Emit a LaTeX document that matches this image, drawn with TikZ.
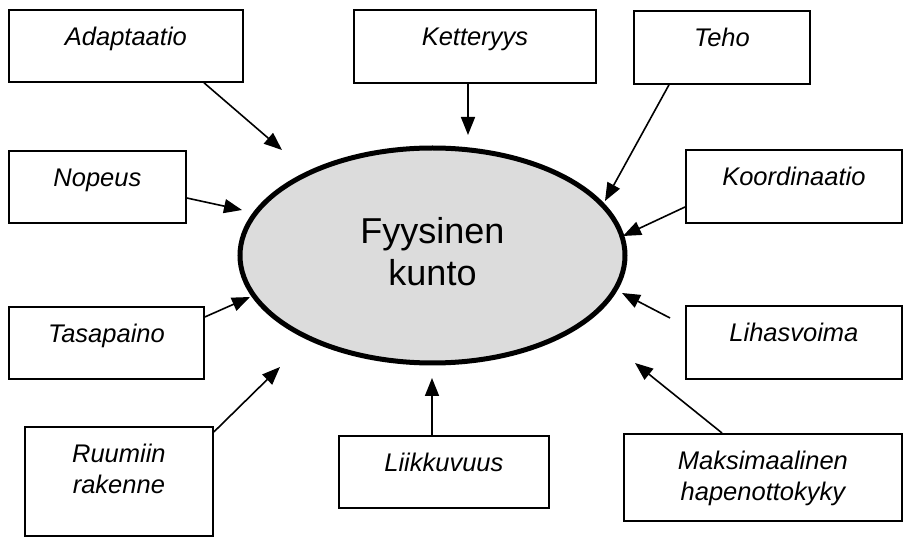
\documentclass[tikz,border=0pt]{standalone}
\usepackage{fontspec}
\setmainfont{Liberation Sans}
\usetikzlibrary{shapes.geometric,arrows.meta,calc}
\definecolor{fillgray}{HTML}{DCDCDC}
\newcommand\boxlbl[3]{\vbox to #2{\hsize=#1\centering\fontsize{25.5}{31}\selectfont\itshape\rule{0pt}{36pt}#3\par\vss}}
\tikzset{
  lbox/.style={draw=black, line width=1.8pt, inner sep=0pt, anchor=north west, rectangle},
  arr/.style={line width=1.6pt, -{Triangle[length=18pt,width=14pt]}},
  centre/.style={ellipse, draw=black, line width=5pt, fill=fillgray, minimum width=385pt, minimum height=215pt, inner sep=0pt, align=center, font=\fontsize{36}{42}\selectfont, text depth=9pt}
}
\begin{document}
\begin{tikzpicture}[x=1pt,y=-1pt]
\useasboundingbox (0,0) rectangle (903,537);
\node[centre] (fk) at (432.5,255.5) {Fyysinen\\kunto};
\node[lbox] (adapt) at (8,9) {\boxlbl{234pt}{72pt}{Adaptaatio}};
\node[lbox] (kett) at (353,9) {\boxlbl{242pt}{73pt}{Ketteryys}};
\node[lbox] (teho) at (633,10) {\boxlbl{176pt}{73pt}{Teho}};
\node[lbox] (nop) at (8,150) {\boxlbl{177pt}{72pt}{Nopeus}};
\node[lbox] (koord) at (685,149) {\boxlbl{216pt}{73pt}{Koordinaatio}};
\node[lbox] (tasa) at (8,306) {\boxlbl{195pt}{72pt}{Tasapaino}};
\node[lbox] (lihas) at (685,305) {\boxlbl{216pt}{73pt}{Lihasvoima}};
\node[lbox] (ruum) at (24,426) {\boxlbl{188pt}{109pt}{Ruumiin\\rakenne}};
\node[lbox] (liik) at (338,435) {\boxlbl{210pt}{72pt}{Liikkuvuus}};
\node[lbox] (maks) at (623,433) {\boxlbl{278pt}{87pt}{Maksimaalinen\\hapenottokyky}};
\coordinate (tA) at (282,150);
\coordinate (tK) at (468,135);
\coordinate (tT) at (605,201);
\coordinate (tKo) at (623,236);
\coordinate (tN) at (242,210);
\coordinate (tTa) at (250,297);
\coordinate (tR) at (280,367);
\coordinate (tL) at (432,378);
\coordinate (tLi) at (622,293);
\coordinate (tM) at (635,363);
\draw[arr] ($(adapt.south west)+(196,0)$) -- (tA);
\draw[arr] ($(kett.south west)+(115,0)$) -- (tK);
\draw[arr] ($(teho.south west)+(36,0)$) -- (tT);
\draw[arr] ($(nop.north east)+(0,48)$) -- (tN);
\draw[arr] ($(koord.north west)+(0,58)$) -- (tKo);
\draw[arr] ($(tasa.north east)+(0,11)$) -- (tTa);
\draw[arr] ($(ruum.north east)+(0,6)$) -- (tR);
\draw[arr] ($(liik.north west)+(94,0)$) -- (tL);
\draw[arr] ($(lihas.north west)+(-15,13)$) -- (tLi);
\draw[arr] ($(maks.north west)+(99,0)$) -- (tM);
\end{tikzpicture}
\end{document}
